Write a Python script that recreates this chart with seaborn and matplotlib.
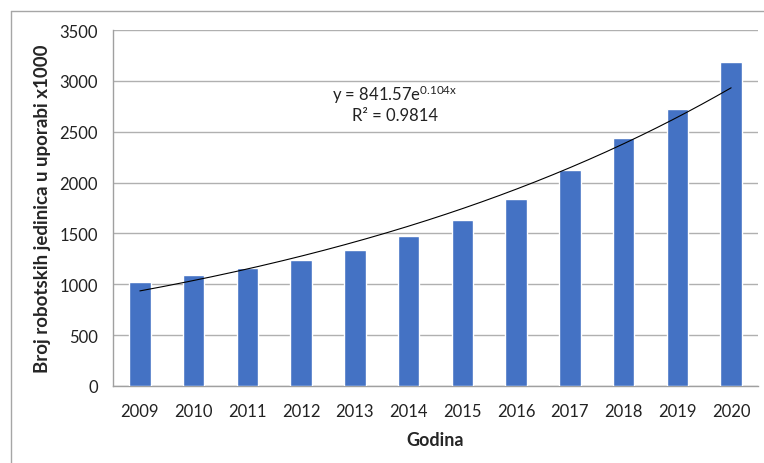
import numpy as np
import pandas as pd
import matplotlib
matplotlib.use("Agg")
import matplotlib.pyplot as plt
from matplotlib.lines import Line2D
import seaborn as sns

# Data
years = ["2009", "2010", "2011", "2012", "2013", "2014",
         "2015", "2016", "2017", "2018", "2019", "2020"]
units = [1020, 1095, 1160, 1235, 1335, 1470, 1630, 1840, 2125, 2440, 2725, 3185]
y_ticks = [0, 500, 1000, 1500, 2000, 2500, 3000, 3500]

eq_text = "y = 841.57e$^{0.104x}$"
r2_text = "R² = 0.9814"

df = pd.DataFrame({"Godina": years, "Jedinice": units})

sns.set_style("white")
plt.rcParams["font.family"] = ["Lato", "DejaVu Sans"]
plt.rcParams["mathtext.default"] = "regular"

fig = plt.figure(figsize=(7.64, 4.64), dpi=100)
ax = fig.add_axes([113 / 764, 1 - 387 / 464, 645 / 764, 356 / 464])

sns.barplot(data=df, x="Godina", y="Jedinice", color="#4472C4",
            width=0.4, saturation=1, ax=ax, zorder=3)

# exponential trendline fitted on the data (x = 1..12 like Excel)
xs = np.arange(1, len(units) + 1)
b, ln_a = np.polyfit(xs, np.log(units), 1)
xf = np.linspace(1, len(units), 200)
ax.plot(xf - 1, np.exp(ln_a) * np.exp(b * xf), color="black", lw=0.8, zorder=4)

fig.text(395 / 764, 1 - 95 / 464, eq_text,
         ha="center", va="center", fontsize=12, color="#222222")
fig.text(395 / 764, 1 - 116 / 464, r2_text,
         ha="center", va="center", fontsize=12, color="#222222")

ax.set_ylim(0, 3500)
ax.set_xlim(-0.5, len(years) - 0.5)
ax.set_yticks(y_ticks)
ax.yaxis.grid(True, color="#B0B0B0", lw=1, zorder=0)
ax.set_axisbelow(True)

ax.set_xticks(np.arange(-0.5, len(years), 1), minor=False, labels=[""] * (len(years) + 1))
ax.set_xticks(np.arange(len(years)), minor=True, labels=years)
ax.tick_params(axis="x", which="major", length=5, color="#A0A0A0", width=1)
ax.tick_params(axis="x", which="minor", length=0, pad=12, labelsize=12, labelcolor="#222222")
ax.tick_params(axis="y", length=5, color="#A0A0A0", width=1, pad=6,
               labelsize=12, labelcolor="#222222")

for side in ["top", "right"]:
    ax.spines[side].set_visible(False)
for side in ["left", "bottom"]:
    ax.spines[side].set_color("#A0A0A0")
    ax.spines[side].set_linewidth(1)

ax.set_xlabel("Godina", fontsize=13, fontweight="bold", labelpad=9)
ax.set_ylabel("Broj robotskih jedinica u uporabi x1000", fontsize=13.5,
              fontweight="bold", labelpad=6)

# outer chart frame (left and top edges visible)
fig.add_artist(Line2D([11 / 764, 11 / 764], [0, 1 - 12 / 464],
                      transform=fig.transFigure, color="#A6A6A6", lw=1))
fig.add_artist(Line2D([11 / 764, 1], [1 - 12 / 464, 1 - 12 / 464],
                      transform=fig.transFigure, color="#A6A6A6", lw=1))

fig.savefig("out.png", dpi=100)
